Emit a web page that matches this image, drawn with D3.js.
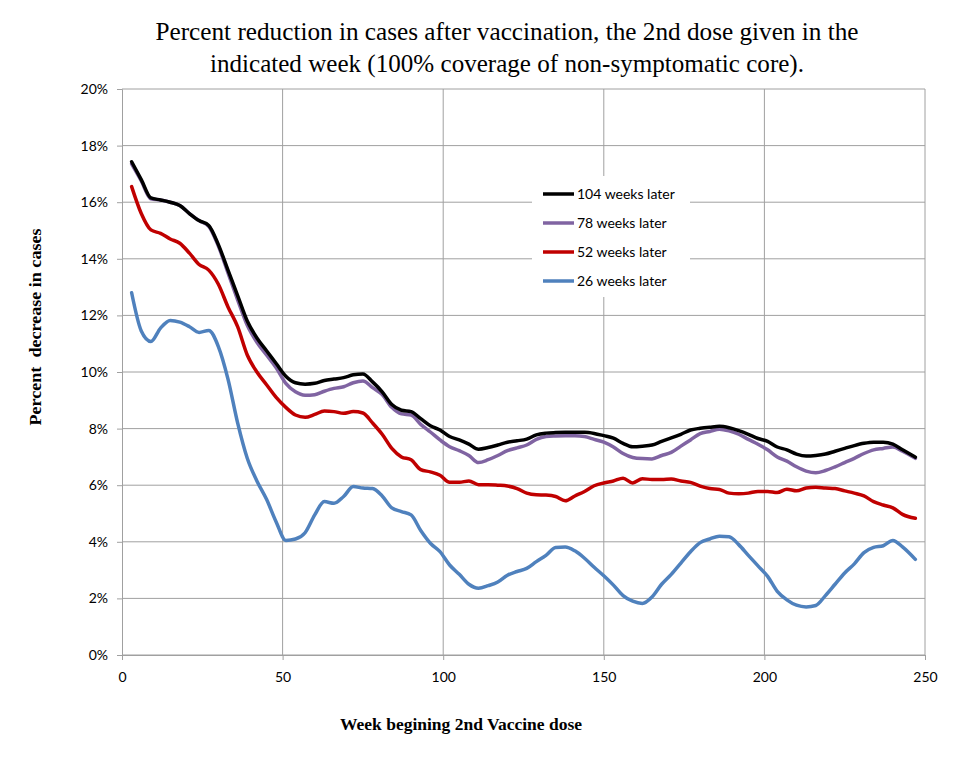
<!DOCTYPE html>
<html><head><meta charset="utf-8">
<script src="https://cdn.jsdelivr.net/npm/d3@7/dist/d3.min.js"></script>
<style>body{margin:0;background:#fff;}svg{display:block;}</style>
</head><body><svg id="c" width="969" height="761"></svg>
<script>
const weeks = [3,6,9,12,15,18,21,24,27,30,33,36,39,42,45,48,51,54,57,60,63,66,69,72,75,78,81,84,87,90,93,96,99,102,105,108,111,114,117,120,123,126,129,132,135,138,141,144,147,150,153,156,159,162,165,168,171,174,177,180,183,186,189,192,195,198,201,204,207,210,213,216,219,222,225,228,231,234,237,240,243,247];
const w104 = [17.43,16.8,16.15,16.08,16.0,15.88,15.6,15.35,15.18,14.5,13.6,12.7,11.8,11.2,10.75,10.3,9.85,9.62,9.57,9.6,9.7,9.75,9.8,9.9,9.93,9.65,9.3,8.85,8.65,8.6,8.35,8.1,7.95,7.72,7.6,7.45,7.27,7.33,7.42,7.52,7.57,7.63,7.78,7.84,7.86,7.87,7.87,7.87,7.83,7.75,7.66,7.48,7.36,7.38,7.42,7.55,7.67,7.8,7.95,8.01,8.05,8.08,8.03,7.93,7.8,7.65,7.55,7.35,7.25,7.1,7.03,7.05,7.1,7.2,7.3,7.4,7.48,7.52,7.52,7.45,7.25,6.99];
const w78 = [17.35,16.75,16.12,16.08,16.0,15.88,15.6,15.35,15.15,14.45,13.5,12.55,11.65,11.05,10.6,10.15,9.6,9.3,9.18,9.2,9.32,9.42,9.48,9.62,9.68,9.45,9.2,8.75,8.52,8.48,8.15,7.88,7.6,7.36,7.22,7.05,6.8,6.9,7.05,7.22,7.32,7.42,7.62,7.72,7.74,7.75,7.75,7.72,7.62,7.52,7.35,7.12,6.98,6.94,6.93,7.05,7.16,7.38,7.6,7.82,7.9,7.98,7.92,7.8,7.62,7.45,7.25,7.0,6.85,6.65,6.5,6.44,6.52,6.65,6.8,6.95,7.12,7.25,7.3,7.35,7.2,6.95];
const w52 = [16.55,15.6,15.02,14.9,14.7,14.55,14.2,13.8,13.6,13.1,12.3,11.6,10.6,10.0,9.55,9.1,8.75,8.48,8.4,8.5,8.62,8.6,8.54,8.6,8.55,8.2,7.8,7.3,7.0,6.9,6.55,6.47,6.35,6.1,6.1,6.15,6.02,6.02,6.0,5.97,5.88,5.72,5.66,5.65,5.6,5.45,5.62,5.78,5.98,6.08,6.15,6.25,6.08,6.23,6.2,6.2,6.22,6.15,6.1,5.97,5.88,5.85,5.72,5.7,5.72,5.78,5.78,5.74,5.86,5.8,5.9,5.93,5.9,5.88,5.8,5.72,5.62,5.42,5.3,5.2,4.97,4.83];
const w26 = [12.8,11.45,11.08,11.55,11.82,11.76,11.6,11.4,11.47,10.9,9.75,8.2,6.95,6.15,5.5,4.7,4.05,4.1,4.32,4.95,5.42,5.36,5.6,5.95,5.9,5.88,5.62,5.2,5.07,4.95,4.4,3.95,3.65,3.18,2.85,2.5,2.36,2.45,2.58,2.82,2.95,3.06,3.3,3.52,3.8,3.82,3.68,3.42,3.1,2.8,2.47,2.1,1.9,1.82,2.05,2.5,2.85,3.25,3.65,3.97,4.1,4.2,4.18,3.9,3.52,3.15,2.78,2.25,1.95,1.76,1.7,1.75,2.1,2.5,2.9,3.22,3.62,3.8,3.86,4.05,3.82,3.38];
const seriesNames = ["104 weeks later","78 weeks later","52 weeks later","26 weeks later"];
const seriesValues = [w104, w78, w52, w26];
const seriesColors = ["#000000","#8064A2","#C00000","#4F81BD"];
const xTicks = [0,50,100,150,200,250];
const yTicks = [0,2,4,6,8,10,12,14,16,18,20];
const titleLines = ["Percent reduction in cases after vaccination, the 2nd dose given in the","indicated week (100% coverage of non-symptomatic core)."];
const xLabel = "Week begining 2nd Vaccine dose";
const yLabel = "Percent  decrease in cases";

const svg = d3.select("#c");
const L = 122, R = 925, T = 89, B = 655;
const x = d3.scaleLinear().domain([0,250]).range([L,R]);
const y = d3.scaleLinear().domain([0,20]).range([B,T]);
const tickFont = "Lato,'Liberation Sans',sans-serif";
const serif = "'Liberation Serif','Times New Roman',serif";
const grid = "#a0a0a0";

// gridlines
svg.append("g").selectAll("line").data(yTicks).join("line")
  .attr("x1",L).attr("x2",R).attr("y1",d=>y(d)).attr("y2",d=>y(d))
  .attr("stroke",grid).attr("stroke-width",1);
svg.append("g").selectAll("line").data(xTicks.filter(d=>d>0)).join("line")
  .attr("x1",d=>x(d)).attr("x2",d=>x(d)).attr("y1",T).attr("y2",B)
  .attr("stroke",grid).attr("stroke-width",1);

// axes
const yAxis = d3.axisLeft(y).tickValues(yTicks).tickSize(5).tickPadding(9).tickFormat(d=>d+"%");
const gy = svg.append("g").attr("transform",`translate(${L},0)`).call(yAxis);
const xAxis = d3.axisBottom(x).tickValues(xTicks).tickSize(5).tickPadding(12).tickFormat(d3.format("d"));
const gx = svg.append("g").attr("transform",`translate(0,${B})`).call(xAxis);
[gx,gy].forEach(g=>{
  g.select(".domain").attr("stroke",grid);
  g.selectAll(".tick line").attr("stroke",grid);
  g.selectAll("text").attr("font-family",tickFont).attr("font-size",14).attr("fill","#000");
});

// legend background (drawn before lines)
svg.append("rect").attr("x",532).attr("y",176).attr("width",158).attr("height",121).attr("fill","#fff");

// lines
const line = d3.line().x((d,i)=>x(weeks[i])).y(d=>y(d)).curve(d3.curveMonotoneX);
seriesValues.slice().reverse().forEach((vals,ri)=>{
  const i = seriesValues.length-1-ri;
  svg.append("path").attr("d",line(vals)).attr("fill","none")
    .attr("stroke",seriesColors[i]).attr("stroke-width",3.5)
    .attr("stroke-linejoin","round").attr("stroke-linecap","round");
});

// legend
const lg = svg.append("g");
seriesNames.forEach((n,i)=>{
  const yy = 194 + i*29;
  lg.append("line").attr("x1",543).attr("x2",574).attr("y1",yy).attr("y2",yy)
    .attr("stroke",seriesColors[i]).attr("stroke-width",3.5);
  lg.append("text").attr("x",577).attr("y",yy+5).text(n)
    .attr("font-family",tickFont).attr("font-size",14).attr("fill","#000");
});

// title
const titleW = [703, 594];
svg.append("g").selectAll("text").data(titleLines).join("text")
  .attr("x",507).attr("y",(d,i)=>40+i*32).attr("text-anchor","middle")
  .attr("font-family",serif).attr("font-size",25)
  .attr("textLength",(d,i)=>titleW[i]).attr("lengthAdjust","spacingAndGlyphs")
  .text(d=>d);

// axis labels
svg.append("text").attr("x",461).attr("y",730).attr("text-anchor","middle")
  .attr("font-family",serif).attr("font-weight","bold")
  .attr("font-size",17).attr("textLength",242).attr("lengthAdjust","spacingAndGlyphs").text(xLabel);
svg.append("text").attr("transform","translate(41,327) rotate(-90)").attr("text-anchor","middle")
  .attr("font-family",serif).attr("font-weight","bold").style("white-space","pre")
  .attr("font-size",17).attr("textLength",197).attr("lengthAdjust","spacingAndGlyphs").text(yLabel);
</script></body></html>
